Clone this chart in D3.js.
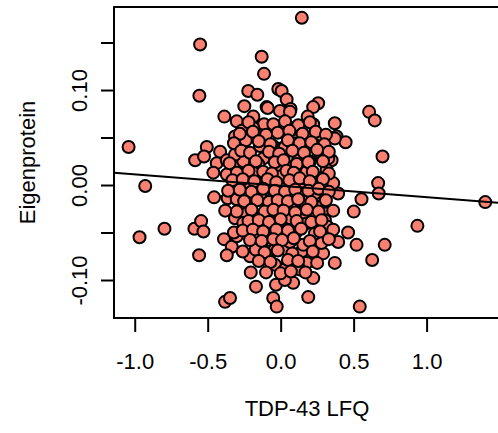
<!DOCTYPE html>
<html>
<head>
<meta charset="utf-8">
<script src="https://cdn.jsdelivr.net/npm/d3@7"></script>
<style>
  body { margin: 0; background: #fff; }
  svg { display: block; font-family: "Liberation Sans", Arial, Helvetica, sans-serif; }
</style>
</head>
<body>
<div id="canvas"></div>
<script>
// TDP-43 LFQ (x) vs Eigenprotein (y)
var points = [
  [0.145, 0.176], [-0.552, 0.148], [-0.130, 0.135], [-0.114, 0.117], [-0.557, 0.094],
  [-0.222, 0.099], [-0.160, 0.095], [-1.042, 0.040], [-0.386, 0.072], [-0.249, 0.083],
  [-0.016, 0.101], [0.007, 0.099], [0.041, 0.090], [-0.096, 0.082], [-0.005, 0.078],
  [0.068, 0.080], [-0.301, 0.067], [-0.187, 0.072], [-0.114, 0.064], [-0.039, 0.062],
  [0.093, 0.059], [-0.267, 0.057], [-0.313, 0.051], [-0.130, 0.052], [-0.239, 0.047],
  [-0.142, 0.041], [-0.051, 0.041], [0.014, 0.039], [0.098, 0.044], [-0.506, 0.040],
  [-0.415, 0.035], [-0.586, 0.026], [-0.525, 0.030], [-0.438, 0.023], [-0.369, 0.026],
  [-0.267, 0.032], [-0.198, 0.026], [-0.119, 0.028], [-0.016, 0.021], [0.075, 0.019],
  [0.606, 0.077], [0.645, 0.068], [0.698, 0.030], [0.257, 0.086], [0.223, 0.082],
  [0.185, 0.072], [0.223, 0.064], [0.371, 0.065], [0.383, 0.051], [0.445, 0.045],
  [0.371, 0.049], [0.098, 0.060], [0.064, 0.077], [0.178, 0.049], [0.269, 0.046],
  [0.235, 0.042], [0.280, 0.032], [0.349, 0.026], [0.029, 0.040], [0.109, 0.037],
  [0.200, 0.025], [0.668, 0.002], [0.672, -0.009], [1.402, -0.018], [0.937, -0.043],
  [0.554, -0.015], [0.501, -0.028], [0.713, -0.063], [0.627, -0.079], [0.542, -0.128],
  [0.189, -0.118], [0.223, -0.098], [0.086, -0.103], [0.520, -0.063], [0.462, -0.050],
  [0.371, -0.082], [0.394, -0.060], [0.291, -0.072], [0.326, -0.046], [0.394, -0.009],
  [0.360, 0.002], [0.291, -0.021], [0.303, -0.030], [0.257, 0.007], [0.166, -0.025],
  [0.064, -0.032], [0.109, -0.049], [0.212, -0.063], [0.144, -0.070], [0.041, -0.068],
  [0.166, -0.084], [0.018, -0.088], [-0.928, -0.001], [-0.967, -0.055], [-0.796, -0.046],
  [-0.591, -0.046], [-0.545, -0.038], [-0.529, -0.049], [-0.559, -0.074], [-0.381, -0.123],
  [-0.347, -0.119], [-0.456, -0.013], [-0.363, -0.014], [-0.301, -0.015], [-0.233, -0.021],
  [-0.388, -0.057], [-0.335, -0.065], [-0.369, -0.074], [-0.301, -0.054], [-0.210, -0.075],
  [-0.205, -0.092], [-0.169, -0.107], [-0.032, -0.105], [-0.039, -0.084], [-0.051, -0.119],
  [-0.027, -0.128], [-0.320, -0.050], [-0.171, -0.068], [-0.096, -0.061], [-0.461, 0.013],
  [-0.369, 0.011], [-0.301, 0.018], [-0.256, 0.025], [-0.313, 0.032], [-0.153, 0.022],
  [-0.187, 0.013], [-0.237, 0.002], [-0.164, -0.002], [-0.233, -0.030], [-0.313, -0.035],
  [-0.301, -0.028], [-0.142, -0.035], [-0.073, -0.030], [-0.005, -0.039], [0.041, -0.051],
  [-0.073, -0.058], [0.075, -0.023], [-0.096, -0.012], [0.041, -0.009], [-0.142, -0.011],
  [-0.051, -0.014], [-0.085, 0.003], [-0.005, 0.009], [0.064, 0.002], [0.007, -0.019],
  [0.326, 0.028], [0.120, 0.026], [0.315, 0.016], [0.178, 0.014], [0.086, 0.003],
  [0.144, -0.005], [0.235, -0.009], [0.064, -0.014], [0.166, -0.018], [0.086, -0.023],
  [0.223, -0.032], [0.303, -0.037], [0.155, -0.037], [0.064, -0.035], [0.166, -0.041],
  [0.321, -0.044], [0.280, -0.061], [0.155, -0.063], [0.064, -0.060], [0.235, -0.051],
  [0.178, -0.082], [0.132, -0.089], [0.029, -0.089], [-0.176, -0.053], [-0.039, -0.068],
  [0.029, -0.100], [-0.096, -0.051], [-0.005, -0.051], [-0.051, -0.042], [-0.256, -0.040],
  [-0.089, 0.081], [-0.187, 0.060],
  // dense middle of the cloud
  [-0.22, 0.066], [-0.05, 0.064], [0.03, 0.067], [0.12, 0.063], [0.20, 0.066],
  [-0.28, 0.054], [-0.19, 0.056], [-0.10, 0.053], [-0.02, 0.055], [0.06, 0.057],
  [0.15, 0.054], [0.24, 0.056], [0.31, 0.053],
  [-0.32, 0.044], [-0.15, 0.046], [-0.07, 0.043], [0.05, 0.047], [0.13, 0.044],
  [0.21, 0.045], [0.30, 0.043],
  [-0.27, 0.036], [-0.21, 0.034], [-0.08, 0.035], [-0.01, 0.033], [0.08, 0.036],
  [0.16, 0.034], [0.25, 0.037], [0.33, 0.035],
  [-0.35, 0.023], [-0.17, 0.025], [-0.04, 0.024], [0.02, 0.026], [0.11, 0.022],
  [0.19, 0.024], [0.29, 0.025],
  [-0.30, 0.013], [-0.22, 0.015], [-0.12, 0.014], [-0.06, 0.012], [0.04, 0.015],
  [0.09, 0.013], [0.22, 0.014], [0.33, 0.012],
  [-0.33, 0.005], [-0.26, 0.006], [-0.18, 0.004], [-0.09, 0.006], [-0.03, 0.003],
  [0.06, 0.005], [0.13, 0.007], [0.20, 0.004], [0.29, 0.006],
  [-0.36, -0.006], [-0.28, -0.005], [-0.20, -0.007], [-0.12, -0.004], [-0.04, -0.006],
  [0.03, -0.007], [0.10, -0.005], [0.19, -0.006], [0.26, -0.004], [0.33, -0.007],
  [-0.25, -0.017], [-0.16, -0.016], [-0.08, -0.018], [-0.02, -0.016], [0.05, -0.017],
  [0.12, -0.015], [0.21, -0.018], [0.31, -0.016],
  [-0.38, -0.027], [-0.20, -0.026], [-0.11, -0.028], [-0.05, -0.026], [0.02, -0.027],
  [0.10, -0.029], [0.18, -0.026], [0.26, -0.028], [0.36, -0.027],
  [-0.22, -0.038], [-0.15, -0.037], [-0.08, -0.039], [0.00, -0.036], [0.11, -0.038],
  [0.21, -0.039], [0.28, -0.037],
  [-0.26, -0.048], [-0.19, -0.047], [-0.12, -0.049], [-0.03, -0.047], [0.05, -0.048],
  [0.14, -0.046], [0.27, -0.049], [0.36, -0.047],
  [-0.21, -0.058], [-0.13, -0.059], [-0.05, -0.057], [0.01, -0.058], [0.09, -0.056],
  [0.20, -0.059], [0.33, -0.057],
  [-0.26, -0.070], [-0.11, -0.071], [-0.02, -0.069], [0.08, -0.072], [0.22, -0.070],
  [-0.15, -0.080], [-0.07, -0.081], [0.05, -0.079], [0.12, -0.080], [0.25, -0.082],
  [-0.10, -0.092], [0.00, -0.093], [0.07, -0.091], [0.17, -0.092]
];

// axis ticks and the labelled subset on y
var xTicks = [-1.0, -0.5, 0.0, 0.5, 1.0];
var yTicks = [-0.10, -0.05, 0.00, 0.05, 0.10, 0.15];
var yLabelled = [-0.10, 0.00, 0.10];

// fitted line
var fitIntercept = -0.0007;
var fitSlope = -0.012;

var xLimits = [-1.142, 1.503];
var yLimits = [-0.140, 0.1874];

var width = 498, height = 433;
var plotLeft = 114, plotRight = 500, plotTop = 7, plotBottom = 318;
var fontSize = 22;

var svg = d3.select("#canvas").append("svg")
    .attr("width", width)
    .attr("height", height);

svg.append("rect")
    .attr("width", width).attr("height", height)
    .attr("fill", "#fff");

var x = d3.scaleLinear().domain(xLimits).range([plotLeft, plotRight]);
var y = d3.scaleLinear().domain(yLimits).range([plotBottom, plotTop]);

// x axis
var xAxis = svg.append("g")
    .attr("transform", "translate(0," + plotBottom + ")")
    .call(d3.axisBottom(x)
        .tickValues(xTicks)
        .tickSize(14)
        .tickSizeOuter(0)
        .tickPadding(21)
        .tickFormat(function(d) { return d.toFixed(1); }));
xAxis.select(".domain").remove();
xAxis.selectAll("line").attr("stroke", "#000").attr("stroke-width", 2);
xAxis.selectAll("text")
    .attr("fill", "#000")
    .style("font-size", fontSize + "px")
    .style("font-family", "'Liberation Sans', Arial, sans-serif");

// y axis, labels turned like R does
var yAxis = svg.append("g")
    .attr("transform", "translate(" + plotLeft + ",0)")
    .call(d3.axisLeft(y)
        .tickValues(yTicks)
        .tickSize(13)
        .tickSizeOuter(0)
        .tickFormat(function(d) {
            return yLabelled.some(function(v) { return Math.abs(v - d) < 1e-9; }) ? d.toFixed(2) : "";
        }));
yAxis.select(".domain").remove();
yAxis.selectAll("line").attr("stroke", "#000").attr("stroke-width", 2);
yAxis.selectAll("text")
    .attr("x", null)
    .attr("dy", null)
    .attr("text-anchor", "middle")
    .attr("transform", "translate(-27,0) rotate(-90)")
    .attr("fill", "#000")
    .style("font-size", fontSize + "px")
    .style("font-family", "'Liberation Sans', Arial, sans-serif");

// axis titles
svg.append("text")
    .attr("x", (plotLeft + plotRight) / 2)
    .attr("y", 416)
    .attr("text-anchor", "middle")
    .style("font-size", fontSize + "px")
    .text("TDP-43 LFQ");

svg.append("text")
    .attr("transform", "translate(35," + ((plotTop + plotBottom) / 2) + ") rotate(-90)")
    .attr("text-anchor", "middle")
    .style("font-size", fontSize + "px")
    .text("Eigenprotein");

// points
svg.append("g").selectAll("circle")
    .data(points)
    .enter().append("circle")
    .attr("cx", function(d) { return x(d[0]); })
    .attr("cy", function(d) { return y(d[1]); })
    .attr("r", 6)
    .attr("fill", "#FA8072")
    .attr("stroke", "#000")
    .attr("stroke-width", 2);

// regression line across the whole plot region
svg.append("line")
    .attr("x1", x(xLimits[0]))
    .attr("y1", y(fitIntercept + fitSlope * xLimits[0]))
    .attr("x2", x(xLimits[1]))
    .attr("y2", y(fitIntercept + fitSlope * xLimits[1]))
    .attr("stroke", "#000")
    .attr("stroke-width", 2);

// plot box
svg.append("rect")
    .attr("x", plotLeft).attr("y", plotTop)
    .attr("width", plotRight - plotLeft)
    .attr("height", plotBottom - plotTop)
    .attr("fill", "none")
    .attr("stroke", "#000")
    .attr("stroke-width", 2);
</script>
</body>
</html>
